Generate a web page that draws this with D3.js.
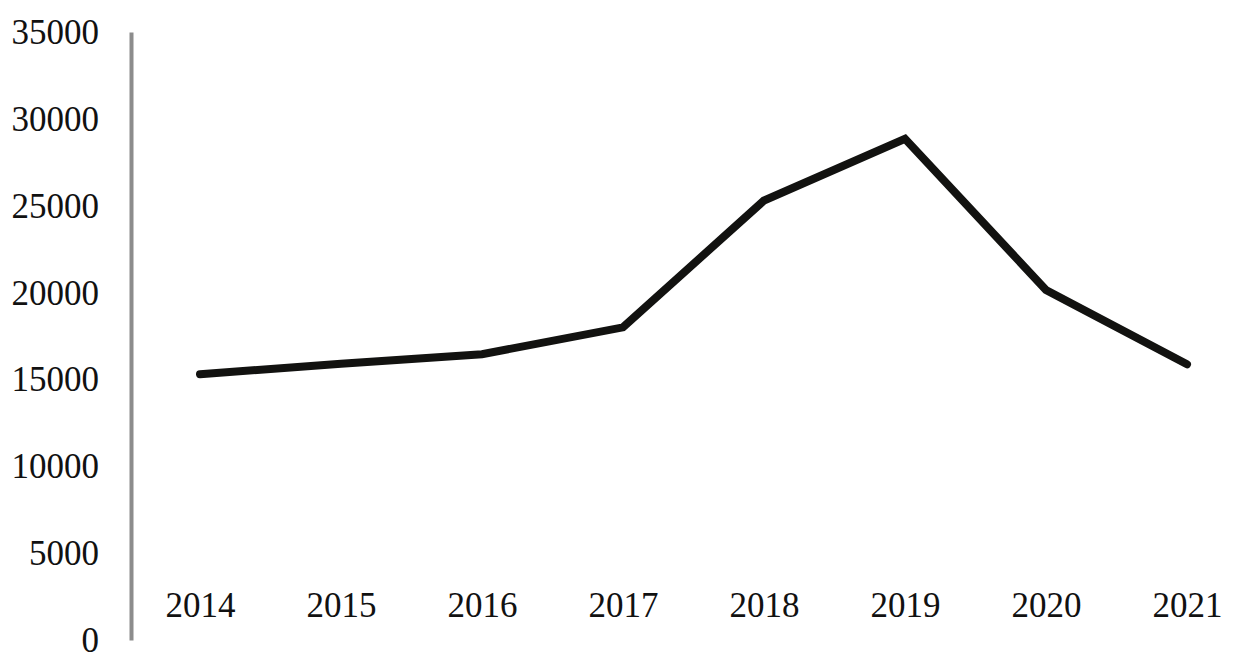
<!DOCTYPE html>
<html>
<head>
<meta charset="utf-8">
<script src="https://cdn.jsdelivr.net/npm/d3@7"></script>
<style>
  html, body { margin: 0; padding: 0; background: #ffffff; }
  svg { display: block; }
</style>
</head>
<body>
<svg id="chart" width="1240" height="664"></svg>
<script>
const years = ["2014", "2015", "2016", "2017", "2018", "2019", "2020", "2021"];
const values = [15300, 15900, 16450, 18000, 25300, 28850, 20150, 15870];
const yTicks = [0, 5000, 10000, 15000, 20000, 25000, 30000, 35000];

const svg = d3.select("#chart");
const font = "'Liberation Serif', 'Times New Roman', serif";

const x = d3.scalePoint().domain(years).range([200, 1187]);
const y = d3.scaleLinear().domain([0, 35000]).range([640, 32]);

// Y axis
const yAxis = svg.append("g")
  .attr("transform", "translate(131,0)")
  .call(d3.axisLeft(y).tickValues(yTicks).tickSize(0).tickPadding(32).tickFormat(d3.format("d")));
yAxis.select(".domain").attr("stroke", "#8c8c8c").attr("stroke-width", 4);
yAxis.selectAll("text")
  .attr("font-family", font)
  .attr("font-size", 35)
  .attr("fill", "#111111")
  .attr("dy", "0.33em");

// X axis labels (no line)
const xAxis = svg.append("g")
  .attr("transform", "translate(0,617)")
  .call(d3.axisBottom(x).tickSize(0).tickPadding(0));
xAxis.select(".domain").remove();
xAxis.selectAll("text")
  .attr("y", 0)
  .attr("dy", null)
  .attr("font-family", font)
  .attr("font-size", 35)
  .attr("fill", "#111111");

// Line
const line = d3.line()
  .x((d, i) => x(years[i]))
  .y(d => y(d));

svg.append("path")
  .datum(values)
  .attr("d", line)
  .attr("fill", "none")
  .attr("stroke", "#121210")
  .attr("stroke-width", 8)
  .attr("stroke-linecap", "round")
  .attr("stroke-linejoin", "miter");
</script>
</body>
</html>
